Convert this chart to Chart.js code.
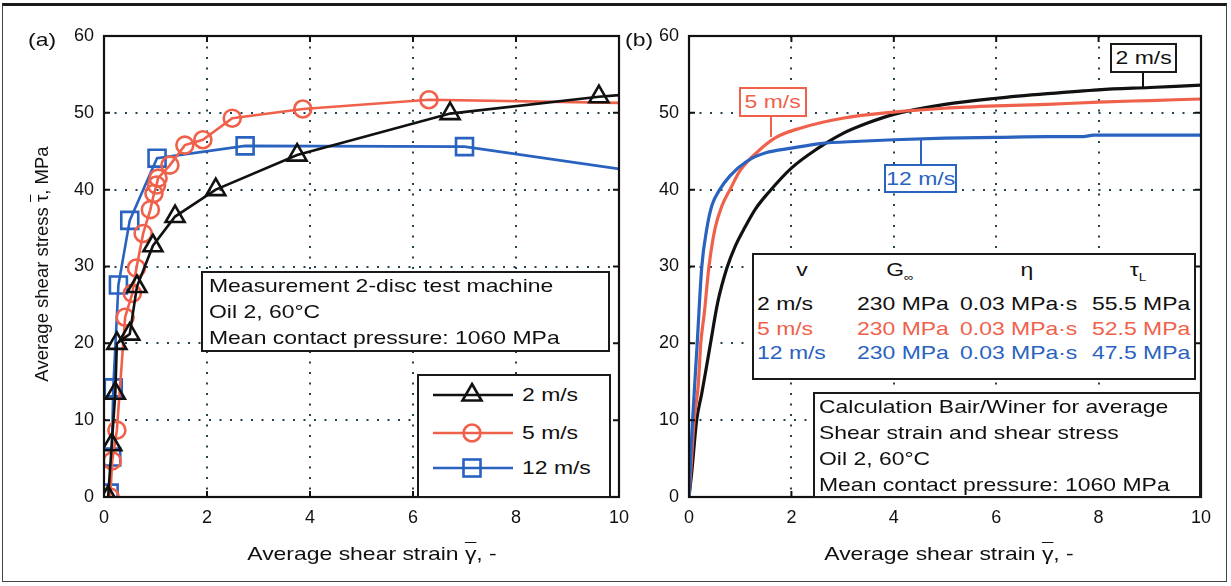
<!DOCTYPE html>
<html>
<head>
<meta charset="utf-8">
<script src="https://cdn.jsdelivr.net/npm/chart.js@4.4.0/dist/chart.umd.min.js"></script>
<style>
  body { margin: 0; background: #fff; font-family: "Liberation Sans", Arial, sans-serif; color: #111; }
  #page { position: relative; width: 1231px; height: 586px; overflow: hidden; }
  .frame { position: absolute; left: 2px; top: 3px; width: 1225px; height: 579px; border: 1px solid #444; border-top: 3px solid #1a1a1a; box-sizing: border-box; }
  canvas { position: absolute; top: 0; }
  .box { position: absolute; border: 2px solid #1a1a1a; background: #fff; box-sizing: border-box; font-size: 18.5px; line-height: 26px; }
  .sx { display: block; white-space: nowrap; transform: scaleX(1.24); transform-origin: 0 0; }
  .cell { position: absolute; white-space: nowrap; font-size: 18.5px; line-height: 24px; transform: scaleX(1.24); transform-origin: 0 0; }
  .tag { position: absolute; background: #fff; box-sizing: border-box; border: 2px solid; font-size: 18.5px; text-align: center; line-height: 25px; }
  .tag span { display: inline-block; transform: scaleX(1.24); }
  .lead { position: absolute; width: 2px; }
  .label { position: absolute; font-size: 18.5px; white-space: nowrap; line-height: 24px; }
  .ov { text-decoration: overline; }
</style>
</head>
<body>
<div id="page">
  <div class="frame"></div>
  <canvas id="chartA" width="640" height="586" style="left:0"></canvas>
  <canvas id="chartB" width="631" height="586" style="left:600px"></canvas>

  <div class="label" style="left:28px;top:28px"><span class="sx">(a)</span></div>
  <div class="label" style="left:625px;top:28px"><span class="sx">(b)</span></div>

  <div class="label" style="left:42px;top:264px;transform:translate(-50%,-50%) rotate(-90deg)">Average shear stress <span class="ov">τ</span>, MPa</div>
  <div class="label" style="left:372px;top:542px;transform:translateX(-50%) scaleX(1.24)">Average shear strain <span class="ov">γ</span>, -</div>
  <div class="label" style="left:949px;top:542px;transform:translateX(-50%) scaleX(1.24)">Average shear strain <span class="ov">γ</span>, -</div>

  <div class="box" style="left:201px;top:271px;width:409px;height:81px;padding-left:6px">
    <span class="sx">Measurement 2-disc test machine<br>Oil 2, 60°C<br>Mean contact pressure: 1060 MPa</span>
  </div>

  <div class="box" id="legendA" style="left:417px;top:374px;width:194px;height:124px"></div>

  <div class="tag" style="left:739px;top:87px;width:68px;height:30px;border-color:#f0614b;color:#f0614b"><span>5 m/s</span></div>
  <div class="lead" style="left:770px;top:117px;height:20px;background:#f0614b"></div>
  <div class="tag" style="left:884px;top:164px;width:73px;height:29px;border-color:#2a62c0;color:#2a62c0"><span>12 m/s</span></div>
  <div class="lead" style="left:920px;top:140px;height:24px;background:#2a62c0"></div>
  <div class="tag" style="left:1110px;top:43px;width:67px;height:30px;border-color:#1a1a1a;color:#111"><span>2 m/s</span></div>
  <div class="lead" style="left:1142px;top:73px;height:16px;background:#111"></div>

  <div class="box" id="tableB" style="left:752px;top:253px;width:444px;height:127px"></div>

  <div class="box" style="left:813px;top:392px;width:388px;height:106px;padding-left:4px">
    <span class="sx">Calculation Bair/Winer for average<br>Shear strain and shear stress<br>Oil 2, 60°C<br>Mean contact pressure: 1060 MPa</span>
  </div>
</div>

<script>
// (a) measured, 2-disc test machine
const strain2 = [0.08, 0.15, 0.22, 0.25, 0.5, 0.64, 0.95, 1.38, 2.17, 3.75, 6.72, 9.61, 10];
const stress2 = [0, 6.8, 13.5, 20.0, 21.2, 27.4, 32.7, 36.5, 40.0, 44.5, 49.9, 52.1, 52.3];
const strain5 = [0.12, 0.16, 0.25, 0.41, 0.55, 0.63, 0.76, 0.9, 0.97, 1.02, 1.05, 1.28, 1.57, 1.92, 2.49, 3.86, 6.31, 10];
const stress5 = [0, 4.7, 8.7, 23.4, 26.5, 29.8, 34.3, 37.4, 39.5, 40.6, 41.5, 43.2, 45.8, 46.5, 49.3, 50.5, 51.7, 51.3];
const strain12 = [0.1, 0.15, 0.18, 0.28, 0.5, 1.03, 2.74, 7.0, 10];
const stress12 = [0.5, 5.2, 14.2, 27.6, 36.0, 44.1, 45.7, 45.6, 42.7];

// (b) Bair/Winer calculation
const calcStrain2 = [0, 0.05, 0.15, 0.25, 0.33, 0.42, 0.56, 0.74, 0.9, 1.1, 1.3, 1.55, 2, 2.5, 3, 3.5, 4, 5, 6, 7, 8, 9, 10];
const calcStress2 = [0, 3, 10, 13.5, 16.5, 20, 25.3, 29.8, 32.6, 35.2, 37.5, 39.6, 42.8, 45.3, 47.3, 48.7, 49.8, 51.1, 51.9, 52.5, 53, 53.3, 53.6];
const calcStrain5 = [0, 0.05, 0.1, 0.18, 0.23, 0.3, 0.39, 0.51, 0.65, 0.8, 1.0, 1.35, 1.7, 2.17, 3, 4, 5, 6, 7, 8, 9, 10];
const calcStress5 = [0, 5, 10, 14.5, 20, 24, 30, 35, 38, 40, 42.5, 45, 46.8, 48, 49.3, 50.1, 50.6, 50.9, 51.1, 51.4, 51.6, 51.8];
const calcStrain12 = [0, 0.03, 0.07, 0.16, 0.25, 0.35, 0.45, 0.6, 0.8, 1.13, 1.5, 2, 2.56, 3.34, 4, 5, 6, 7, 7.7, 7.9, 10];
const calcStress12 = [0, 5, 10, 20, 30, 35, 38, 40, 41.8, 43.7, 44.8, 45.4, 46, 46.3, 46.5, 46.7, 46.8, 46.9, 46.9, 47.1, 47.1];

const speeds = ["2 m/s", "5 m/s", "12 m/s"];
const tableHead = ["v", "G<sub style='font-size:11px'>∞</sub>", "η", "τ<sub style='font-size:11px'>L</sub>"];
const tableRows = [
  ["2 m/s", "230 MPa", "0.03 MPa·s", "55.5 MPa"],
  ["5 m/s", "230 MPa", "0.03 MPa·s", "52.5 MPa"],
  ["12 m/s", "230 MPa", "0.03 MPa·s", "47.5 MPa"],
];

const colors = ["#111111", "#f0614b", "#2a62c0"];
const FONT = "'Liberation Sans', Arial, sans-serif";

const toPoints = (xs, ys) => xs.map((x, i) => ({ x, y: ys[i] }));

// plot frame + inward tick marks on all four sides
const framePlugin = {
  id: "frame",
  afterDatasetsDraw(chart) {
    const { ctx, chartArea: a, scales } = chart;
    ctx.save();
    ctx.strokeStyle = "#111";
    ctx.lineWidth = 2;
    ctx.beginPath();
    scales.x.ticks.forEach((t) => {
      const px = scales.x.getPixelForValue(t.value);
      ctx.moveTo(px, a.bottom); ctx.lineTo(px, a.bottom - 6);
      ctx.moveTo(px, a.top); ctx.lineTo(px, a.top + 6);
    });
    scales.y.ticks.forEach((t) => {
      const py = scales.y.getPixelForValue(t.value);
      ctx.moveTo(a.left, py); ctx.lineTo(a.left + 6, py);
      ctx.moveTo(a.right, py); ctx.lineTo(a.right - 6, py);
    });
    ctx.stroke();
    ctx.lineWidth = 2.2;
    ctx.strokeRect(a.left, a.top, a.right - a.left, a.bottom - a.top);
    ctx.restore();
  },
};

const gridOpts = { color: "#23434f", lineWidth: 2, drawTicks: false };
const borderOpts = { display: false, dash: [2, 8.5] };

const makeScales = (yWidth) => ({
  x: {
    type: "linear",
    min: 0,
    max: 10,
    ticks: { stepSize: 2, color: "#111", padding: 10, font: { family: FONT, size: 18 } },
    grid: gridOpts,
    border: borderOpts,
    afterFit: (s) => { s.height = 72; },
  },
  y: {
    min: 0,
    max: 60,
    ticks: { stepSize: 10, color: "#111", padding: 10, font: { family: FONT, size: 18 } },
    grid: gridOpts,
    border: borderOpts,
    afterFit: (s) => { s.width = yWidth; },
  },
});

const markerStyles = [
  { pointStyle: "triangle", pointRadius: 11 },
  { pointStyle: "circle", pointRadius: 8.5 },
  { pointStyle: "rect", pointRadius: 12 },
];

const measured = [toPoints(strain2, stress2), toPoints(strain5, stress5), toPoints(strain12, stress12)];

new Chart(document.getElementById("chartA"), {
  type: "scatter",
  data: {
    datasets: measured.map((pts, i) => ({
      label: speeds[i],
      data: pts,
      showLine: true,
      borderColor: colors[i],
      backgroundColor: "transparent",
      borderWidth: 2.6,
      pointStyle: markerStyles[i].pointStyle,
      // the line runs on to the frame edge without a marker there
      pointRadius: (c) => (c.raw && c.raw.x >= 10 ? 0 : markerStyles[i].pointRadius),
      pointBorderWidth: 2.6,
      pointBorderColor: colors[i],
      pointBackgroundColor: "transparent",
      tension: 0,
    })),
  },
  options: {
    responsive: false,
    animation: false,
    events: [],
    layout: { padding: { left: 27, top: 36, right: 21, bottom: 17 } },
    plugins: { legend: { display: false }, tooltip: { enabled: false } },
    scales: makeScales(77),
  },
  plugins: [framePlugin],
});

const calculated = [toPoints(calcStrain2, calcStress2), toPoints(calcStrain5, calcStress5), toPoints(calcStrain12, calcStress12)];

new Chart(document.getElementById("chartB"), {
  type: "scatter",
  data: {
    // draw blue first, black on top
    datasets: [2, 1, 0].map((i) => ({
      label: speeds[i],
      data: calculated[i],
      showLine: true,
      borderColor: colors[i],
      borderWidth: 3.2,
      pointRadius: 0,
      cubicInterpolationMode: "monotone",
    })),
  },
  options: {
    responsive: false,
    animation: false,
    events: [],
    layout: { padding: { left: 40, top: 36, right: 30, bottom: 17 } },
    plugins: { legend: { display: false }, tooltip: { enabled: false } },
    scales: makeScales(49),
  },
  plugins: [framePlugin],
});

// legend for (a)
const legend = document.getElementById("legendA");
const legendRowsY = [19, 57, 92];
const markerSvg = [
  '<polygon points="39,-1 48.5,15.5 29.5,15.5" fill="none" stroke="#111" stroke-width="2.6"/>',
  '<circle cx="39" cy="10" r="8.5" fill="none" stroke="#f0614b" stroke-width="2.6"/>',
  '<rect x="30.5" y="1.5" width="17" height="17" fill="none" stroke="#2a62c0" stroke-width="2.6"/>',
];
speeds.forEach((s, i) => {
  const row = document.createElement("div");
  row.style.cssText = `position:absolute;left:14px;top:${legendRowsY[i] - 10}px;height:20px;width:170px`;
  row.innerHTML = `
    <svg width="82" height="20" style="position:absolute;left:0;top:0;overflow:visible">
      <line x1="0" y1="10" x2="80" y2="10" stroke="${colors[i]}" stroke-width="2.6"/>
      ${markerSvg[i]}
    </svg>
    <span class="sx" style="position:absolute;left:89px;top:-3px;font-size:18.5px;line-height:26px">${s}</span>`;
  legend.appendChild(row);
});

// parameter table for (b)
const table = document.getElementById("tableB");
const headCenters = [48, 146, 273, 384];
const colLefts = [3, 103, 206, 338];
const rowTops = [37, 62, 86];
tableHead.forEach((h, j) => {
  const c = document.createElement("div");
  c.className = "cell";
  c.style.cssText = `left:${headCenters[j] - 30}px;width:60px;text-align:center;top:3px;transform-origin:50% 0`;
  c.innerHTML = h;
  table.appendChild(c);
});
tableRows.forEach((r, i) => {
  r.forEach((v, j) => {
    const c = document.createElement("div");
    c.className = "cell";
    c.style.cssText = `left:${colLefts[j]}px;top:${rowTops[i]}px;color:${colors[i]}`;
    c.textContent = v;
    table.appendChild(c);
  });
});
</script>
</body>
</html>
